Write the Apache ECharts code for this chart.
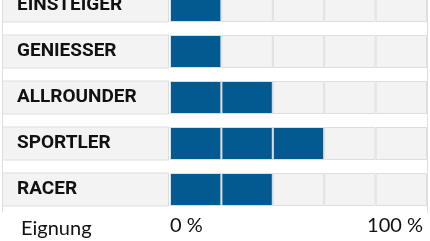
<!DOCTYPE html>
<html>
<head>
<meta charset="utf-8">
<script src="https://cdn.jsdelivr.net/npm/echarts@6/dist/echarts.min.js"></script>
<style>
html,body{margin:0;padding:0;background:#fff;}
#chart{width:430px;height:241px;}
</style>
</head>
<body>
<div id="chart"></div>
<script>
const categories = ['EINSTEIGER', 'GENIESSER', 'ALLROUNDER', 'SPORTLER', 'RACER'];
const scores = [1, 1, 2, 3, 2];
const segmentCount = 5;
const tickLabels = ['0 %', '100 %'];
const axisTitle = 'Eignung';

const BLUE = '#035a91';
const GRAY = '#f3f3f3';
const LINE = '#dedede';

const series = [];
for (let k = 0; k < segmentCount; k++) {
  series.push({
    type: 'bar',
    stack: 'seg',
    barWidth: 33,
    silent: true,
    itemStyle: { borderColor: LINE, borderWidth: 1 },
    data: categories.map((c, i) => ({
      value: 1,
      itemStyle: { color: k < scores[i] ? BLUE : GRAY }
    }))
  });
}

const chart = echarts.init(document.getElementById('chart'), null, { renderer: 'canvas' });
chart.setOption({
  animation: false,
  backgroundColor: '#ffffff',
  title: {
    text: axisTitle,
    left: 16,
    top: 214,
    textStyle: { fontFamily: 'Lato', fontWeight: 'normal', fontSize: 20, color: '#111' }
  },
  grid: { left: 170, right: 3, top: -17.5, height: 230, containLabel: false, outerBoundsMode: 'none' },
  xAxis: {
    type: 'value',
    min: 0,
    max: segmentCount,
    interval: segmentCount,
    splitLine: { show: false },
    axisLine: { show: false },
    axisTick: { show: false },
    axisLabel: {
      margin: 3,
      fontFamily: 'Lato',
      fontSize: 20,
      color: '#111',
      padding: [0, 4, 0, 0],
      alignMinLabel: 'left',
      alignMaxLabel: 'right',
      formatter: v => v === 0 ? tickLabels[0] : (v === segmentCount ? tickLabels[1] : '')
    }
  },
  yAxis: [{
    type: 'category',
    inverse: true,
    data: categories,
    axisLine: { show: false },
    axisTick: { show: false },
    axisLabel: {
      align: 'left',
      margin: 167,
      width: 151,
      height: 32,
      lineHeight: 32,
      padding: [0, 0, 0, 14],
      backgroundColor: GRAY,
      borderColor: LINE,
      borderWidth: 1,
      verticalAlign: 'middle',
      fontFamily: 'Roboto',
      fontWeight: 'bold',
      fontSize: 19,
      color: '#111'
    }
  }, {
    type: 'category',
    inverse: true,
    position: 'right',
    data: categories,
    axisLine: { show: true, lineStyle: { color: LINE, width: 1 } },
    axisTick: { show: false },
    axisLabel: { show: false }
  }],
  graphic: [{
    type: 'line',
    shape: { x1: 2.5, y1: 0, x2: 2.5, y2: 212.5 },
    style: { stroke: LINE, lineWidth: 1 },
    silent: true
  }],
  series: series
});
</script>
</body>
</html>
